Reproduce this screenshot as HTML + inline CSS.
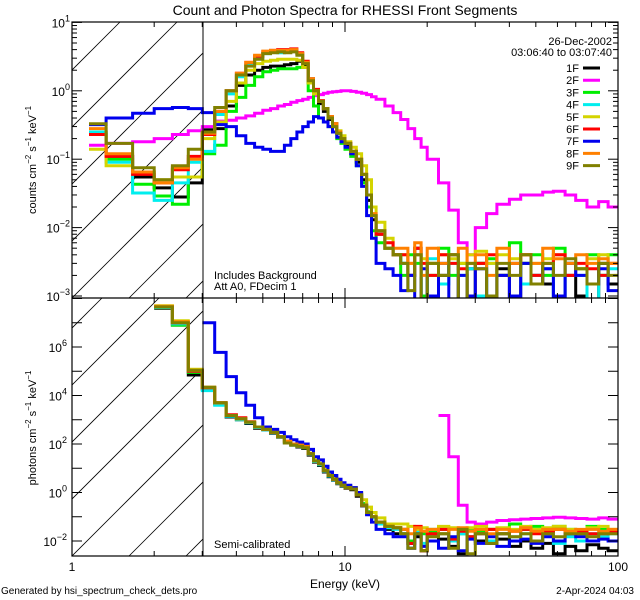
<!DOCTYPE html>
<html><head><meta charset="utf-8"><style>
html,body{margin:0;padding:0;background:#fff;}
svg{display:block;font-family:"Liberation Sans",sans-serif;}
</style></head><body>
<svg id="chart" width="640" height="600" viewBox="0 0 640 600" xmlns="http://www.w3.org/2000/svg">
<rect x="0" y="0" width="640" height="600" fill="#fff"/>
<defs>
<clipPath id="clipTop"><rect x="72" y="22" width="546" height="276"/></clipPath>
<clipPath id="clipBot"><rect x="72" y="298" width="546" height="258"/></clipPath>
<clipPath id="clipHatchTop"><rect x="72" y="22" width="131" height="276"/></clipPath>
<clipPath id="clipHatchBot"><rect x="72" y="298" width="131" height="258"/></clipPath>
</defs>
<text x="345" y="15" font-size="14" text-anchor="middle">Count and Photon Spectra for RHESSI Front Segments</text>
<g id="hatch"></g>
<g id="series-top" clip-path="url(#clipTop)"></g>
<g id="series-bot" clip-path="url(#clipBot)"></g>
<g id="axes"></g>
<g id="legend">
<text x="612" y="45" font-size="11" text-anchor="end">26-Dec-2002</text>
<text x="612" y="56" font-size="11" text-anchor="end">03:06:40 to 03:07:40</text>
</g>
<text x="214" y="279" font-size="11">Includes Background</text>
<text x="214" y="290" font-size="11">Att A0, FDecim 1</text>
<text x="214" y="548" font-size="11">Semi-calibrated</text>
<text x="345" y="588" font-size="12" text-anchor="middle">Energy (keV)</text>
<text transform="translate(36,160) rotate(-90)" font-size="11" text-anchor="middle">counts cm<tspan dy="-5" font-size="8">−2</tspan><tspan dy="5"> s</tspan><tspan dy="-5" font-size="8">−1</tspan><tspan dy="5"> keV</tspan><tspan dy="-5" font-size="8">−1</tspan></text>
<text transform="translate(36,428) rotate(-90)" font-size="11" text-anchor="middle">photons cm<tspan dy="-5" font-size="8">−2</tspan><tspan dy="5"> s</tspan><tspan dy="-5" font-size="8">−1</tspan><tspan dy="5"> keV</tspan><tspan dy="-5" font-size="8">−1</tspan></text>
<text x="1" y="594" font-size="10">Generated by hsi_spectrum_check_dets.pro</text>
<text x="634" y="594" font-size="10" text-anchor="end">2-Apr-2024 04:03</text>
</svg>
<script>
const edges = [1,1.333,1.667,2,2.333,2.667,3,3.333,3.667,4,4.333,4.667,5,5.333,5.667,6,6.333,6.667,7,7.333,7.667,8,8.333,8.667,9,9.333,9.667,10,10.5,11,11.5,12,12.5,13,14,15,16,17,18,19,20,22,24,26,28,30,33,36,40,44,48,53,58,64,70,77,85,92,100];
const seriesNames = ["1F","2F","3F","4F","5F","6F","7F","8F","9F"];
const seriesColors = ["#000000","#ff00ff","#00ee00","#00eeee","#d4d400","#ff0000","#0000ee","#ff8000","#808000"];
const xTickLabels = ["1","10","100"];
const topYTickExps = ["-3","-2","-1","0","1"];
const botYTickExps = ["-2","0","2","4","6"];

const counts1F = [0.25,0.11,0.055,0.038,0.028,0.045, 0.27,0.28,0.6,1.2,1.7,2.0,2.2,2.3,2.3,2.4,2.5,2.7,2.4,1.3,0.9,0.65,0.5,0.38,0.3,0.24,0.2, 0.16,0.12,0.09,0.05,0.025,0.013,0.008,0.005,0.004, 3e-3,2e-3,5e-3,1e-3,3e-3,2e-3,4e-3,6e-4,2.5e-3,3e-3,1e-3,2.5e-3,6e-4,3e-3,2e-3,1.5e-3,5e-4,2e-3,1e-3,6e-4,3e-3,1.5e-3];
const counts2F = [0.16,0.17,0.18,0.2,0.23,0.26, 0.3,0.36,0.37,0.4,0.43,0.47,0.52,0.55,0.6,0.63,0.68,0.72,0.75,0.8,0.85,0.88,0.92,0.95,0.97,0.98,1.0, 1.0,0.98,0.95,0.92,0.88,0.82,0.75,0.6,0.48, 0.38,0.28,0.2,0.15,0.1,0.045,0.018,0.006,0.004,0.01,0.016,0.022,0.026,0.03,0.03,0.033,0.034,0.03,0.025,0.02,0.024,0.02];
const counts3F = [0.24,0.1,0.043,0.029,0.022,0.055, 0.12,0.16,0.5,0.8,1.2,1.6,1.9,2.0,2.1,2.1,2.1,2.2,2.2,1.0,0.6,0.4,0.35,0.3,0.25,0.2,0.17, 0.14,0.11,0.08,0.045,0.02,0.009,0.006,0.005,0.004, 2e-3,4e-3,3e-3,1e-3,2e-3,5e-3,2e-3,3e-3,1e-3,3e-3,3.5e-3,2e-3,6e-3,3e-3,4e-3,2e-3,5e-3,3e-3,2.5e-3,4e-3,2e-3,4e-3];
const counts4F = [0.25,0.09,0.032,0.025,0.045,0.09, 0.13,0.45,0.9,1.6,2.4,3.0,3.5,3.7,3.6,3.7,3.8,3.5,2.6,1.5,1.0,0.7,0.55,0.42,0.33,0.25,0.2, 0.17,0.13,0.1,0.06,0.03,0.015,0.009,0.005,0.004, 3e-3,2e-3,4e-3,8e-4,3.5e-3,1.5e-3,3e-3,2e-3,2.5e-3,1e-3,3e-3,2e-3,3e-3,1.5e-3,2e-3,2.5e-3,8e-4,3e-3,2e-3,7e-4,2e-3,2.5e-3];
const counts5F = [0.14,0.08,0.065,0.05,0.055,0.055, 0.2,0.35,0.7,1.3,2.0,2.5,2.7,2.8,2.9,2.9,2.9,2.8,2.2,1.3,0.9,0.7,0.55,0.42,0.33,0.26,0.22, 0.18,0.15,0.12,0.08,0.05,0.02,0.012,0.007,0.004, 4e-3,3e-3,4e-3,3.5e-3,3e-3,4e-3,3.5e-3,3e-3,4e-3,4.5e-3,3e-3,4e-3,3.5e-3,4e-3,3e-3,3.5e-3,4e-3,3e-3,2.5e-3,3.5e-3,4e-3,3e-3];
const counts6F = [0.23,0.11,0.06,0.045,0.07,0.11, 0.23,0.5,1.0,1.8,2.6,3.2,3.7,3.9,4.0,4.0,4.1,3.6,2.7,1.5,1.05,0.72,0.55,0.42,0.33,0.25,0.2, 0.17,0.13,0.1,0.06,0.03,0.015,0.008,0.006,0.004, 4e-3,2e-3,5e-3,3e-3,2e-3,4e-3,3e-3,2.5e-3,6e-4,3e-3,4e-3,2e-3,3e-3,4e-3,2e-3,3e-3,4e-3,2e-3,3e-3,2.5e-3,2e-3,3e-3];
const counts7F = [0.32,0.4,0.47,0.55,0.57,0.55, 0.48,0.32,0.3,0.22,0.17,0.15,0.14,0.13,0.13,0.16,0.2,0.25,0.3,0.35,0.42,0.4,0.35,0.3,0.25,0.21,0.18, 0.15,0.12,0.08,0.04,0.015,0.007,0.003,0.0025,0.002, 1.2e-3,2e-3,8e-4,2.5e-3,1e-3,3e-3,6e-4,2e-3,1e-3,2.5e-3,8e-4,2e-3,1e-3,3e-3,1.5e-3,2.5e-3,1e-3,3e-3,2e-3,1.5e-3,2.5e-3,1.2e-3];
const counts8F = [0.28,0.12,0.065,0.045,0.075,0.1, 0.24,0.5,1.0,1.8,2.6,3.3,3.8,3.9,3.9,3.9,4.0,3.5,2.6,1.5,1.0,0.7,0.55,0.42,0.33,0.25,0.2, 0.17,0.13,0.1,0.06,0.03,0.016,0.009,0.005,0.005, 5e-3,3e-3,6e-3,2e-3,5e-3,3e-3,4e-3,5e-3,3e-3,4e-3,2e-3,5e-3,3e-3,4e-3,3e-3,5e-3,3.5e-3,3e-3,4e-3,3e-3,3.5e-3,3e-3];
const counts9F = [0.33,0.17,0.075,0.05,0.08,0.14, 0.25,0.57,1.0,1.7,2.3,2.9,3.5,3.6,3.7,3.6,3.7,3.3,2.5,1.4,1.0,0.7,0.55,0.4,0.3,0.24,0.2, 0.17,0.13,0.1,0.06,0.03,0.015,0.009,0.005,0.004, 3e-3,1.2e-3,4e-3,8e-4,3e-3,2e-3,4e-3,9e-4,3e-3,2.5e-3,1e-3,3e-3,2e-3,4e-3,1.5e-3,3e-3,2e-3,3.5e-3,2.5e-3,1.5e-3,3e-3,2e-3];

const photons1F = [null,null,null,4.0e7,8e6,7e4, 1.8e4,4.5e3,1.3e3,1.0e3,700,450,380,280,190,110,90,75,65,35,18,13,7,4.5,3.2,2.3,1.8, 1.5,1.3,0.7,0.28,0.13,0.09,0.05,0.03,0.02, 0.02,0.008,0.015,0.004,0.02,0.012,0.006,0.003,0.015,0.01,0.008,0.012,0.006,0.01,0.005,0.008,0.003,0.006,0.004,0.007,0.005,0.004];
const photons2F = [null,null,null,null,null,null, null,null,null,null,null,null,null,null,null,null,null,null,null,null,null,null,null,null,null,null,null, null,null,null,null,null,null,null,null,null, null,null,null,null,null,1500,30,0.3,0.06,0.05,0.06,0.07,0.075,0.08,0.085,0.09,0.095,0.09,0.085,0.08,0.09,0.08];
const photons3F = [null,null,null,4.2e7,8e6,9e4, 2.0e4,4.5e3,1.5e3,1.1e3,800,500,400,300,200,120,95,85,75,40,20,15,8,5,3.5,2.5,2.1, 1.7,1.5,0.9,0.35,0.16,0.1,0.06,0.04,0.035, 0.03,0.01,0.03,0.02,0.025,0.03,0.012,0.02,0.03,0.025,0.03,0.02,0.05,0.03,0.04,0.025,0.04,0.03,0.02,0.04,0.03,0.025];
const photons4F = [null,null,null,4.3e7,9e6,1.0e5, 1.6e4,4e3,1.4e3,1.0e3,750,480,380,290,190,115,90,80,70,38,19,14,7.5,4.8,3.3,2.4,1.9, 1.6,1.4,0.8,0.3,0.14,0.09,0.05,0.035,0.03, 0.02,0.005,0.025,0.008,0.03,0.02,0.01,0.02,0.015,0.02,0.01,0.02,0.015,0.02,0.01,0.02,0.008,0.015,0.01,0.02,0.015,0.02];
const photons5F = [null,null,null,5.0e7,1.2e7,1.2e5, 2.2e4,5e3,1.5e3,1.1e3,800,500,400,300,200,130,100,90,80,42,22,16,9,5.5,3.8,2.7,2.2, 1.8,1.6,1.0,0.5,0.25,0.15,0.09,0.05,0.05, 0.05,0.04,0.03,0.035,0.03,0.04,0.035,0.03,0.035,0.04,0.03,0.035,0.03,0.04,0.03,0.035,0.04,0.03,0.025,0.035,0.04,0.03];
const photons6F = [null,null,null,4.6e7,1.0e7,1.0e5, 2.1e4,5e3,1.6e3,1.2e3,820,500,400,300,200,130,100,90,80,40,20,15,8,5,3.5,2.5,2.0, 1.6,1.4,0.8,0.3,0.15,0.1,0.06,0.04,0.035, 0.03,0.008,0.04,0.004,0.02,0.03,0.012,0.025,0.015,0.02,0.03,0.02,0.025,0.03,0.02,0.025,0.03,0.02,0.025,0.02,0.02,0.025];
const photons7F = [null,null,null,null,null,null, 1e7,6e5,6e4,1.3e4,4e3,1.2e3,500,400,300,200,150,120,100,60,30,22,12,7,5,3.5,2.5, 2.0,1.6,1.0,0.3,0.12,0.06,0.03,0.02,0.015, 0.015,0.005,0.02,0.006,0.01,0.005,0.015,0.004,0.012,0.008,0.015,0.006,0.01,0.012,0.008,0.015,0.01,0.02,0.015,0.01,0.012,0.01];
const photons8F = [null,null,null,4.8e7,1.1e7,1.1e5, 2.2e4,5e3,1.5e3,1.1e3,800,500,400,300,200,130,100,90,80,40,20,15,8,5,3.5,2.5,2.0, 1.6,1.4,0.8,0.3,0.15,0.1,0.06,0.04,0.035, 0.03,0.02,0.035,0.025,0.03,0.02,0.03,0.035,0.025,0.03,0.02,0.03,0.025,0.035,0.025,0.03,0.03,0.025,0.03,0.03,0.025,0.03];
const photons9F = [null,null,null,4.5e7,1.0e7,1.1e5, 2.2e4,5e3,1.5e3,1.1e3,800,500,400,300,200,110,90,80,70,40,20,15,8,5,3.5,2.5,2.0, 1.6,1.4,0.8,0.3,0.15,0.1,0.06,0.04,0.035, 0.02,0.005,0.02,0.004,0.015,0.02,0.005,0.03,0.003,0.02,0.008,0.02,0.015,0.02,0.01,0.02,0.015,0.02,0.02,0.015,0.02,0.02];

const countsAll = [counts1F,counts2F,counts3F,counts4F,counts5F,counts6F,counts7F,counts8F,counts9F];
const photonsAll = [photons1F,photons2F,photons3F,photons4F,photons5F,photons6F,photons7F,photons8F,photons9F];

const NS = "http://www.w3.org/2000/svg";
const X0 = 72, XDEC = 273;
function xs(e){ return X0 + XDEC*Math.log10(e); }
function yTop(v){ return 296 - (Math.log10(v)+3)*68.4; }
function yBot(v){ return 541 - (Math.log10(v)+2)*24.25; }
function mk(tag, attrs, parent){
  const el = document.createElementNS(NS, tag);
  for (const k in attrs) el.setAttribute(k, attrs[k]);
  parent.appendChild(el);
  return el;
}
function clampY(y){ return Math.max(-2000, Math.min(3000, y)); }
function stepPath(vals, yf, centerStart){
  let d = "", open = false;
  for (let i=0;i<vals.length;i++){
    const v = vals[i];
    if (v === null || v === undefined){ open=false; continue; }
    let xa = xs(edges[i]);
    const xb = xs(edges[i+1]);
    const y = clampY(yf(v)).toFixed(1);
    if (!open){
      if (centerStart && i===0) xa = xs(Math.sqrt(edges[0]*edges[1]));
      d += "M"+xa.toFixed(1)+","+y+"L"+xb.toFixed(1)+","+y;
      open = true;
    } else {
      d += "L"+xa.toFixed(1)+","+y+"L"+xb.toFixed(1)+","+y;
    }
  }
  return d;
}

const hatch = document.getElementById('hatch');
[['clipHatchTop',22,298,'hatch-top'],['clipHatchBot',298,556,'hatch-bot']].forEach(function(h){
  const g = mk('g',{ 'clip-path':'url(#'+h[0]+')' }, hatch);
  
  
  for (let k=-6;k<10;k++){
    const xb = 72 + k*57;
    mk('line',{x1:xb, y1:h[2], x2:xb+(h[2]-h[1]), y2:h[1], stroke:'#000','stroke-width':0.8}, g);
  }
});

const gt = document.getElementById('series-top');
const gb = document.getElementById('series-bot');
for (let s=0;s<9;s++){
  const p1 = mk('path',{d:stepPath(countsAll[s], yTop, true), fill:'none', stroke:seriesColors[s], 'stroke-width':3}, gt);
  
  
  const p2 = mk('path',{d:stepPath(photonsAll[s], yBot, false), fill:'none', stroke:seriesColors[s], 'stroke-width':3}, gb);
  
  
}

const lg = document.getElementById('legend');
for (let s=0;s<9;s++){
  const y = 68 + s*12.2;
  const t = mk('text',{x:579, y:y+4, 'font-size':11, 'text-anchor':'end'}, lg);
  t.textContent = seriesNames[s];
  
  
  const l = mk('line',{x1:583, x2:600, y1:y, y2:y, stroke:seriesColors[s], 'stroke-width':3}, lg);
  
  
}

const ax = document.getElementById('axes');
function ln(x1,y1,x2,y2,w){ return mk('line',{x1:x1,y1:y1,x2:x2,y2:y2,stroke:'#000','stroke-width':w||1}, ax); }
const frame = mk('rect',{x:72,y:22,width:546,height:534,fill:'none',stroke:'#000','stroke-width':1.2}, ax);


ln(72,298,618,298,1.2);
ln(203,22,203,556,1);
[[22,298],[298,556]].forEach(function(p){
  for (let dec=0; dec<2; dec++){
    for (let m=1;m<=9;m++){
      const e = m*Math.pow(10,dec);
      const x = xs(e);
      const len = (m===1)?10:5;
      ln(x,p[0],x,p[0]+len); ln(x,p[1],x,p[1]-len);
    }
  }
});
xTickLabels.forEach(function(lbl){
  const t = mk('text',{x:xs(parseFloat(lbl)), y:571, 'font-size':12, 'text-anchor':'middle'}, ax);
  t.textContent = lbl;
  
  
});
for (let d=-3; d<=1; d++){
  for (let m=1;m<=9;m++){
    const v = m*Math.pow(10,d);
    const y = yTop(v);
    if (y < 21.5 || y > 298.5) continue;
    const len = (m===1)?10:5;
    ln(72,y,72+len,y); ln(618,y,618-len,y);
  }
}
topYTickExps.forEach(function(ex){
  const y = yTop(Math.pow(10, parseFloat(ex)));
  const t = mk('text',{x:70, y:y+5, 'font-size':12, 'text-anchor':'end'}, ax);
  
  
  t.appendChild(document.createTextNode('10'));
  const ts = mk('tspan',{dy:-6,'font-size':9}, t);
  ts.textContent = ex.replace('-','−');
});
for (let d=-2; d<=8; d++){
  const y = yBot(Math.pow(10,d));
  if (y < 297 || y > 557) continue;
  ln(72,y,82,y); ln(618,y,608,y);
}
botYTickExps.forEach(function(ex){
  const y = yBot(Math.pow(10, parseFloat(ex)));
  const t = mk('text',{x:67, y:y+5, 'font-size':12, 'text-anchor':'end'}, ax);
  
  
  t.appendChild(document.createTextNode('10'));
  const ts = mk('tspan',{dy:-6,'font-size':9}, t);
  ts.textContent = ex.replace('-','−');
});
</script>
</body></html>
